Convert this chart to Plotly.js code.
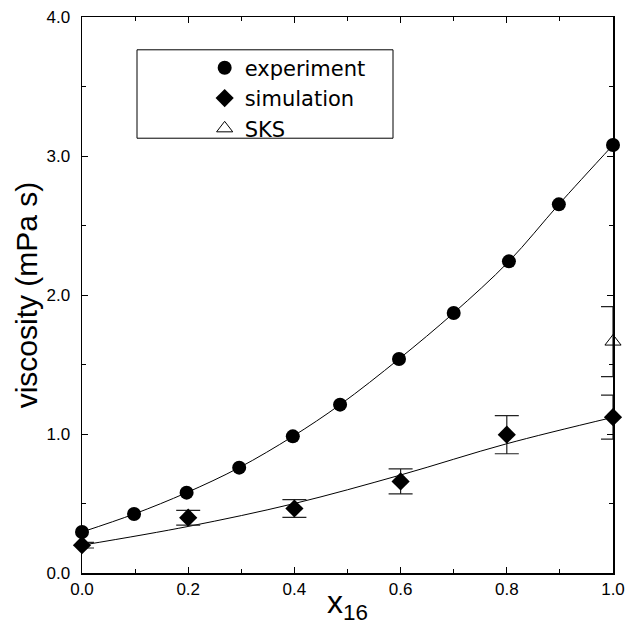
<!DOCTYPE html>
<html>
<head>
<meta charset="utf-8">
<script src="https://cdn.plot.ly/plotly-3.0.1.min.js"></script>
<style>html,body{margin:0;padding:0;background:#fff;}#chart{width:625px;height:625px;}</style>
</head>
<body>
<div id="chart"></div>
<script>
// Experiment (filled circles)
var expX = [0.0, 0.098, 0.197, 0.296, 0.397, 0.486, 0.597, 0.70, 0.804, 0.898, 1.0];
var expY = [0.295, 0.424, 0.578, 0.758, 0.983, 1.211, 1.540, 1.871, 2.242, 2.652, 3.079];
// Simulation (diamonds) with error bars
var simX = [0.0, 0.2, 0.4, 0.6, 0.8, 1.0];
var simY = [0.20, 0.398, 0.464, 0.659, 0.995, 1.121];
var simErr = [0.02, 0.053, 0.064, 0.09, 0.137, 0.158];
// Simulation fit curve
var simFitX = [0.0, 0.2, 0.4, 0.6, 0.8, 1.0];
var simFitY = [0.20, 0.335, 0.50, 0.705, 0.93, 1.12];
// SKS (open triangle)
var sksX = [1.0];
var sksY = [1.665];
var sksErr = [0.252];

var xTicks = [0.0, 0.2, 0.4, 0.6, 0.8, 1.0];
var yTicks = [0.0, 1.0, 2.0, 3.0, 4.0];

var FONT = 'Liberation Sans, Arial, sans-serif';

var traces = [
  {x: expX, y: expY, mode: 'lines', line: {color: '#000', width: 1, shape: 'spline'}, showlegend: false, hoverinfo: 'skip'},
  {x: simFitX, y: simFitY, mode: 'lines', line: {color: '#000', width: 1, shape: 'spline'}, showlegend: false, hoverinfo: 'skip'},
  {x: expX, y: expY, mode: 'markers', name: 'experiment', cliponaxis: false,
   marker: {symbol: 'circle', size: 14, color: '#000'}},
  {x: simX, y: simY, mode: 'markers', name: 'simulation', cliponaxis: false,
   marker: {symbol: 'diamond', size: 14, color: '#000'},
   error_y: {type: 'data', array: simErr, visible: true, color: '#222', thickness: 1.2, width: 12}},
  {x: sksX, y: sksY, mode: 'markers', name: 'SKS', cliponaxis: false,
   marker: {symbol: 'triangle-up-open', size: 14, color: '#000', line: {width: 1}},
   error_y: {type: 'data', array: sksErr, visible: true, color: '#222', thickness: 1.2, width: 12}}
];

var layout = {
  width: 625, height: 625,
  margin: {l: 82, r: 12, t: 17, b: 52},
  paper_bgcolor: '#fff', plot_bgcolor: '#fff',
  font: {family: FONT, color: '#000', size: 16},
  showlegend: true,
  legend: {x: 0.231, y: 0.945, xanchor: 'left', yanchor: 'top',
    borderwidth: 0, bgcolor: 'rgba(0,0,0,0)',
    font: {family: 'DejaVu Sans, sans-serif', size: 21, color: '#000'}, itemwidth: 30, tracegroupgap: 0},
  shapes: [
    {type: 'rect', xref: 'paper', yref: 'paper', x0: 0.1036, x1: 0.5857, y0: 0.782, y1: 0.941,
     line: {color: '#000', width: 1}, fillcolor: 'rgba(0,0,0,0)', layer: 'below'}
  ],
  xaxis: {
    range: [0, 1], tickvals: xTicks, tickformat: '.1f',
    showline: true, linecolor: '#000', linewidth: 1.5, mirror: 'ticks',
    ticks: 'inside', ticklen: 6, tickcolor: '#000', tickwidth: 1,
    minor: {dtick: 0.1, ticks: 'inside', ticklen: 4, tickcolor: '#000', showgrid: false},
    showgrid: false, zeroline: false,
    tickfont: {family: FONT, size: 17, color: '#000'},
    title: {text: 'x<sub>16</sub>', font: {family: FONT, size: 32, color: '#000'}, standoff: 2}
  },
  yaxis: {
    range: [0, 4], tickvals: yTicks, tickformat: '.1f',
    showline: true, linecolor: '#000', linewidth: 1.5, mirror: 'ticks',
    ticks: 'inside', ticklen: 6, tickcolor: '#000', tickwidth: 1,
    minor: {dtick: 0.5, ticks: 'inside', ticklen: 4, tickcolor: '#000', showgrid: false},
    showgrid: false, zeroline: false, ticklabelstandoff: 7,
    tickfont: {family: FONT, size: 17, color: '#000'},
    title: {text: 'viscosity (mPa s)', font: {family: FONT, size: 30, color: '#000'}, standoff: 0}
  }
};

Plotly.newPlot('chart', traces, layout, {staticPlot: true, displayModeBar: false});
</script>
</body>
</html>
